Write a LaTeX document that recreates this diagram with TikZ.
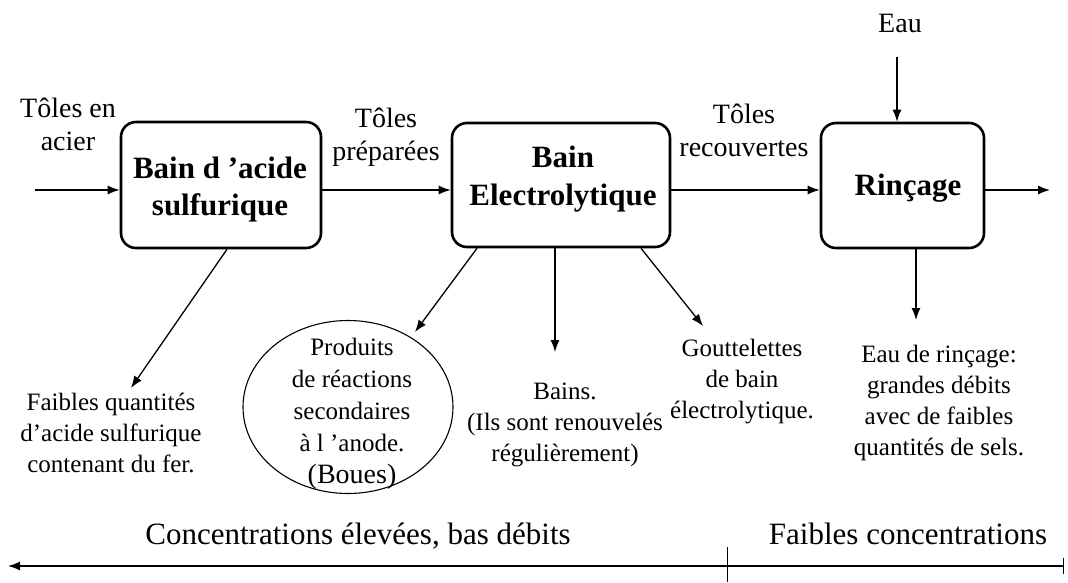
\documentclass[tikz,border=0pt]{standalone}
\usepackage{fontspec}
\setmainfont{Liberation Serif}
\usetikzlibrary{arrows.meta,shapes.geometric,calc}
\begin{document}
\begin{tikzpicture}[x=1pt,y=-1pt,
  arr/.style={-{Latex[length=12pt,width=9pt]}, line width=1.3pt},
  box/.style={draw, line width=2.6pt, rounded corners=15pt, inner sep=0pt},
  boxtext/.style={font=\bfseries\fontsize{31}{37}\selectfont, align=center, inner sep=0pt, anchor=base},
  toplabel/.style={font=\fontsize{28}{33}\selectfont, align=center, inner sep=0pt, anchor=base},
  outlabel/.style={font=\fontsize{25}{31}\selectfont, align=center, inner sep=0pt, anchor=base},
  axislabel/.style={font=\fontsize{31}{37}\selectfont, inner sep=0pt, anchor=base}]
\useasboundingbox (0,0) rectangle (1068,582);

% boxes
\node[box, minimum width=200pt, minimum height=126pt] (b1) at (221,185) {};
\node[box, minimum width=218pt, minimum height=124pt] (b2) at (561,185) {};
\node[box, minimum width=163pt, minimum height=125pt] (b3) at (902.5,185.5) {};
\node[boxtext] (b1t) at (220,215) {Bain d ’acide\\sulfurique};
\node[boxtext, font=\bfseries\fontsize{31}{38}\selectfont] (b2t) at (563,205) {Bain\\Electrolytique};
\node[boxtext] (b3t) at (908,195) {Rinçage};

% ellipse
\node[draw, ellipse, line width=1.1pt, minimum width=210pt, minimum height=173pt, inner sep=0pt] (e) at (348,407) {};
\node[outlabel, font=\fontsize{25}{32}\selectfont] (et) at (352,483) {Produits\\de réactions\\secondaires\\à l ’anode.\\{\fontsize{28}{32}\selectfont (Boues)}};

% labels
\node[toplabel] (tin) at (68,150) {Tôles en\\acier};
\node[toplabel] (tprep) at (386,160) {Tôles\\préparées};
\node[toplabel] (trec) at (744,156) {Tôles\\recouvertes};
\node[toplabel] (eau) at (900,32) {Eau};
\node[outlabel] (fq) at (111,472) {Faibles quantités\\d’acide sulfurique\\contenant du fer.};
\node[outlabel] (bains) at (565,461) {Bains.\\(Ils sont renouvelés\\régulièrement)};
\node[outlabel] (goutt) at (742,418) {Gouttelettes\\de bain\\électrolytique.};
\node[outlabel] (rinc) at (939,455) {Eau de rinçage:\\grandes débits\\avec de faibles\\quantités de sels.};
\node[axislabel] (conc1) at (358,544) {Concentrations élevées, bas débits};
\node[axislabel] (conc2) at (908,544) {Faibles concentrations};

% coordinates
\coordinate (in) at (35,190);
\coordinate (out) at (1050,190);
\coordinate (eau0) at (897,57);
\coordinate (d1e) at (131,388);
\coordinate (etip) at (415,332);
\coordinate (d3e) at (555,352);
\coordinate (d4e) at (703,326);
\coordinate (d5e) at (916,320);
\coordinate (axL) at (8,566);
\coordinate (axR) at (1064,566);
\coordinate (tickT) at (727,547);
\coordinate (tickB) at (727,582);

% main flow
\draw[arr] (in) -- (in -| b1.west);
\draw[arr] (b1.east |- in) -- (b2.west |- in);
\draw[arr] (b2.east |- in) -- (b3.west |- in);
\draw[arr] (b3.east |- in) -- (out);
\draw[arr] (eau0) -- (eau0 |- b3.north);

% outputs
\draw[arr] ([xshift=6pt]b1.south) -- (d1e);
\draw[arr] ([xshift=-84pt]b2.south) -- (etip);
\draw[arr] (d3e |- b2.south) -- (d3e);
\draw[arr] ([xshift=80pt]b2.south) -- (d4e);
\draw[arr] (d5e |- b3.south) -- (d5e);

% bottom axis
\draw[{Latex[length=12pt,width=9pt]}-{Bar[width=16pt]}, line width=1.4pt] (axL) -- (axR);
\draw[line width=0.8pt] (tickT) -- (tickB);
\end{tikzpicture}
\end{document}
